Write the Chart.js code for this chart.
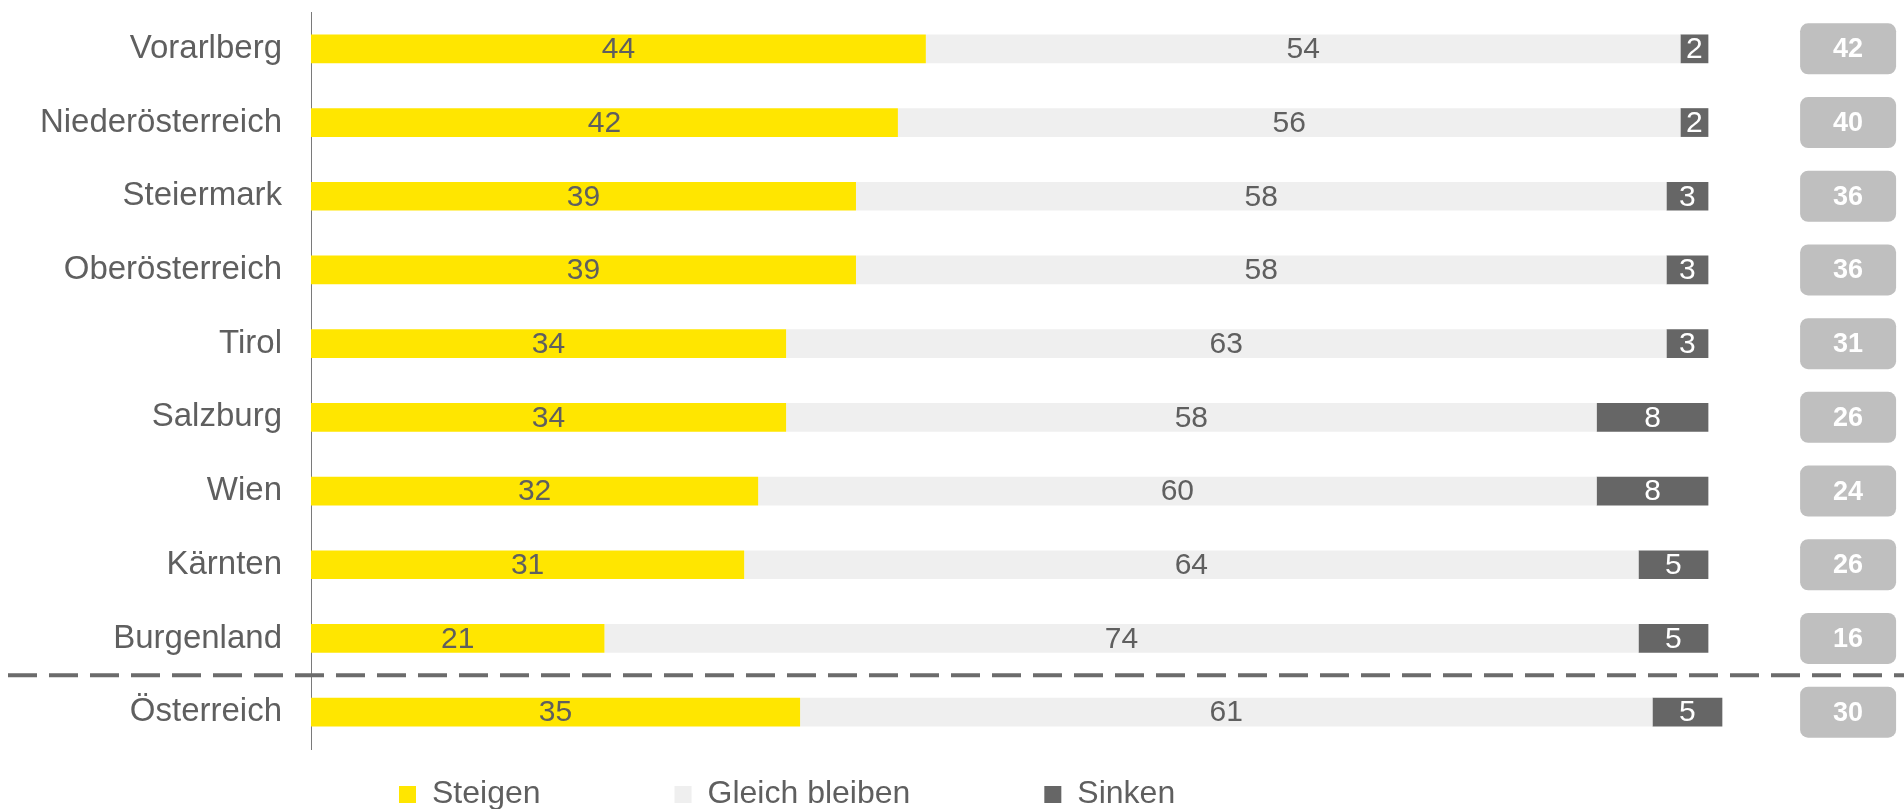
<!DOCTYPE html>
<html>
<head>
<meta charset="utf-8">
<script src="https://cdn.jsdelivr.net/npm/chart.js@4.4.1/dist/chart.umd.min.js"></script>
<style>
    html, body { margin: 0; padding: 0; background: #fff; }
    #wrap { width: 1904px; height: 809px; position: relative; }
</style>
</head>
<body>
<div id="wrap"><canvas id="chart"></canvas></div>
<script>
// Data
const regionen = ['Vorarlberg', 'Niederösterreich', 'Steiermark', 'Oberösterreich', 'Tirol',
    'Salzburg', 'Wien', 'Kärnten', 'Burgenland', 'Österreich'];
const steigen = [44, 42, 39, 39, 34, 34, 32, 31, 21, 35];
const gleichBleiben = [54, 56, 58, 58, 63, 58, 60, 64, 74, 61];
const sinken = [2, 2, 3, 3, 3, 8, 8, 5, 5, 5];
const saldo = [42, 40, 36, 36, 31, 26, 24, 26, 16, 30];
const serien = ['Steigen', 'Gleich bleiben', 'Sinken'];

const FONT = '"Liberation Sans", Arial, sans-serif';
const TEXT_GREY = '#5f5f5f';

// value labels inside the bars
const barLabels = {
    id: 'barLabels',
    afterDatasetsDraw(chart) {
        const ctx = chart.ctx;
        ctx.save();
        ctx.font = '30px ' + FONT;
        ctx.textAlign = 'center';
        ctx.textBaseline = 'middle';
        chart.data.datasets.forEach((ds, di) => {
            const meta = chart.getDatasetMeta(di);
            meta.data.forEach((bar, i) => {
                ctx.fillStyle = di === 2 ? '#ffffff' : TEXT_GREY;
                ctx.fillText(ds.data[i], (bar.x + bar.base) / 2, bar.y + 1);
            });
        });
        ctx.restore();
    }
};

// dashed line between Burgenland and Österreich, saldo badges, legend
const extras = {
    id: 'extras',
    afterDraw(chart) {
        const ctx = chart.ctx;
        const x = chart.scales.x;
        const y = chart.scales.y;
        ctx.save();

        // separator
        const ySep = (y.getPixelForValue(8) + y.getPixelForValue(9)) / 2;
        ctx.strokeStyle = '#6b6b6b';
        ctx.lineWidth = 4;
        ctx.setLineDash([29, 12]);
        ctx.beginPath();
        ctx.moveTo(8, ySep);
        ctx.lineTo(chart.width, ySep);
        ctx.stroke();
        ctx.setLineDash([]);

        // saldo badges
        const bx = x.getPixelForValue(110);
        saldo.forEach((v, i) => {
            const cy = y.getPixelForValue(i);
            ctx.fillStyle = '#bfbfbf';
            ctx.beginPath();
            ctx.roundRect(bx - 48, cy - 25.5, 96, 51, 8);
            ctx.fill();
            ctx.fillStyle = '#ffffff';
            ctx.font = 'bold 27px ' + FONT;
            ctx.textAlign = 'center';
            ctx.textBaseline = 'middle';
            ctx.fillText(v, bx, cy + 1);
        });

        // legend
        ctx.font = '32px ' + FONT;
        ctx.textAlign = 'left';
        ctx.textBaseline = 'middle';
        let lx = chart.chartArea.left + 88;
        const ly = chart.height - 15;
        chart.data.datasets.forEach(ds => {
            ctx.fillStyle = ds.backgroundColor;
            ctx.fillRect(lx, ly - 8, 17, 17);
            ctx.fillStyle = TEXT_GREY;
            ctx.fillText(ds.label, lx + 33, ly);
            lx += 33 + ctx.measureText(ds.label).width + 134;
        });
        ctx.restore();
    }
};

const ctx = document.getElementById('chart').getContext('2d');
new Chart(ctx, {
    type: 'bar',
    data: {
        labels: regionen,
        datasets: [
            { label: serien[0], data: steigen, backgroundColor: '#ffe600' },
            { label: serien[1], data: gleichBleiben, backgroundColor: '#efefef' },
            { label: serien[2], data: sinken, backgroundColor: '#666666' }
        ]
    },
    options: {
        indexAxis: 'y',
        responsive: true,
        maintainAspectRatio: false,
        animation: false,
        barPercentage: 0.39,
        categoryPercentage: 1,
        layout: { padding: { top: 12, bottom: 60, left: 0, right: 0 } },
        plugins: {
            legend: { display: false },
            tooltip: { enabled: false }
        },
        scales: {
            x: {
                stacked: true,
                display: false,
                min: 0,
                max: 114
            },
            y: {
                stacked: true,
                grid: { display: false, drawTicks: false },
                border: { display: true, color: '#7a7a7a', width: 1 },
                ticks: {
                    padding: 29,
                    color: TEXT_GREY,
                    font: { family: FONT, size: 33 }
                },
                afterFit: s => {
                    s.width = 311;
                    s.paddingTop = 0;
                    s.paddingBottom = 0;
                }
            }
        }
    },
    plugins: [barLabels, extras]
});
</script>
</body>
</html>
